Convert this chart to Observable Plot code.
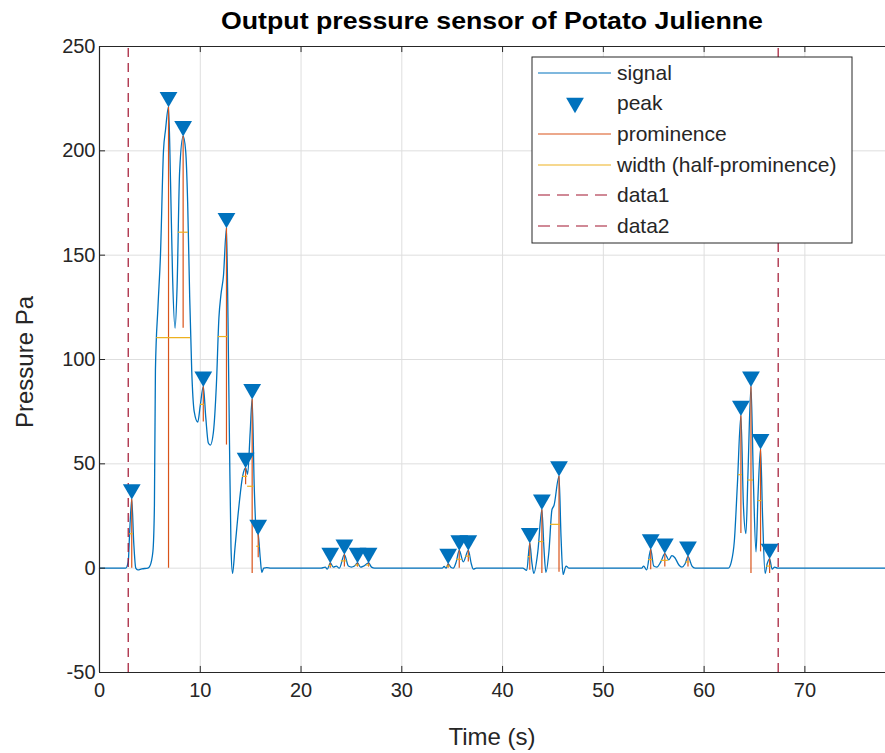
<!DOCTYPE html>
<html><head><meta charset="utf-8">
<script src="https://cdn.jsdelivr.net/npm/d3@7"></script>
<script src="https://cdn.jsdelivr.net/npm/@observablehq/plot@0.6"></script>
<style>body{margin:0;background:#fff} svg{display:block}</style>
</head><body><div id="chart"></div>
<script>
// ---- data ----
const time = [0,2.6,2.85,3.0,3.2,3.4,3.6,3.8,4.2,4.8,5.0,5.3,5.45,5.55,5.8,6.05,6.35,6.55,6.85,7.05,7.25,7.5,7.7,7.95,8.3,8.55,8.75,8.95,9.15,9.4,9.75,10.0,10.3,10.55,10.8,11.0,11.3,11.6,11.85,12.05,12.3,12.6,12.75,12.9,13.05,13.2,13.45,13.8,14.2,14.5,14.7,14.95,15.15,15.35,15.55,15.75,15.95,16.1,16.3,16.6,17,
22.0,22.4,22.6,22.9,23.2,23.5,23.8,24.3,24.7,25.0,25.3,25.6,25.9,26.2,26.7,27.0,27.3,
34.0,34.2,34.4,34.6,34.9,35.1,35.4,35.7,36.1,36.6,36.9,37.1,37.4,
42.0,42.4,42.7,42.9,43.1,43.5,43.9,44.1,44.3,44.6,44.9,45.1,45.6,45.8,46.0,46.3,46.6,
53.8,54.0,54.3,54.7,55.0,55.3,55.7,56.1,56.5,56.8,57.1,57.5,57.8,58.1,58.4,58.8,59.1,
62.4,62.7,63.0,63.3,63.65,63.9,64.15,64.35,64.65,64.9,65.15,65.35,65.6,65.8,66.05,66.25,66.5,66.75,67.0,67.3,78];
const pressure = [0,0,3,18,33,12,0,-0.8,-0.3,0,1,8,30,95,125,150,200,210,221,185,140,115,135,190,207,200,175,130,95,75,70,78,87,72,60,59,65,88,120,131,140,163,120,60,10,-2.5,10,28,44,48,45,65,81,40,18,16,5,-2,0,0.3,0,
0,0.5,-0.5,2.5,0.5,1,0,6.5,1,0.5,1,2.5,0.5,1,2.5,0.5,0,
0,0.8,0,2,0.3,0,3,8.5,3,8.5,2,-0.5,0,
0,-1,12,3,-2.5,8,28,10,-2,8,28,30,44,15,-3,1,0,
0,1,-0.8,9,1,0.5,3,7,4,6,5,1.5,0.5,2,5.5,1,0,
0,3,13,40,73,30,16.6,45,87,40,7.8,35,57,25,-2.5,2,4.5,-0.5,0.5,0,0];

const peakTime  = [3.2,6.85,8.3,10.3,12.6,14.5,15.15,15.75,22.9,24.3,25.6,26.7,34.6,35.7,36.6,42.7,43.9,45.6,54.7,56.1,58.4,63.65,64.65,65.6,66.5];
const peakValue = [33,221,207,87,163,48,81,16,2.5,6.5,2.5,2.5,2,8.5,8.5,12,28,44,9,7,5.5,73,87,57,4.5];
const promBase  = [0,0,115,70,59,40,-2.5,5,0,0.5,0.5,0.5,0,0,3,-1,-2.5,-2,-0.8,0.5,0.5,16.6,-2.5,7.8,-2.5];
const widthLeft  = [2.99,5.68,7.82,10.01,11.78,14.2,14.7,15.6,22.75,24.0,25.4,26.5,34.45,35.45,36.35,42.55,43.6,44.75,54.5,55.75,58.2,63.4,64.35,65.35,66.2];
const widthRight = [3.36,9.04,8.81,10.44,12.77,14.7,15.34,15.9,23.1,24.55,25.8,26.85,34.8,36.0,36.8,42.85,44.1,45.75,54.9,56.45,58.6,63.8,64.9,65.75,66.7];

const boundaryTimes = [2.85, 67.35];
const xTicks = [0,10,20,30,40,50,60,70];
const yTicks = [-50,0,50,100,150,200,250];
const legendLabels = ["signal","peak","prominence","width (half-prominence)","data1","data2"];

// ---- derived tables ----
const signal = time.map((t,i)=>({t, p: pressure[i]}));
const peaks = peakTime.map((t,i)=>({t, p: peakValue[i], base: promBase[i]}));
const widths = widthLeft.map((l,i)=>({x1:l, x2: widthRight[i], y: (peakValue[i]+promBase[i])/2}));

const FONT = "'Liberation Sans', Arial, Helvetica, sans-serif";
const BLUE="#0072BD", ORANGE="#D95319", YELLOW="#EDB120", RED="#A2142F", AX="#262626";

const svg = Plot.plot({
  width: 885, height: 753,
  marginLeft: 99, marginTop: 46, marginBottom: 81, marginRight: 0,
  style: {fontFamily: FONT, fontSize: "20px", color: AX, background: "#fff", overflow: "visible"},
  x: {domain: [0, 78], ticks: xTicks, tickSize: 0, tickPadding: 10, label: null, tickFormat: d => String(d)},
  y: {domain: [-50, 250], ticks: yTicks, tickSize: 0, tickPadding: 4, label: null, tickFormat: d => String(d)},
  marks: [
    Plot.gridX(xTicks, {stroke: "#dedede", strokeOpacity: 1}),
    Plot.gridY(yTicks, {stroke: "#dedede", strokeOpacity: 1}),
    Plot.line(signal, {x: "t", y: "p", stroke: BLUE, strokeWidth: 1.3, curve: "monotone-x"}),
    Plot.ruleX(peaks, {x: "t", y1: "base", y2: "p", stroke: ORANGE, strokeWidth: 1.2}),
    Plot.ruleY(widths, {y: "y", x1: "x1", x2: "x2", stroke: YELLOW, strokeWidth: 1.2}),
    Plot.ruleX(boundaryTimes, {x: d => d, y1: -50, y2: 250, stroke: RED, strokeWidth: 1.2, strokeDasharray: "9,6"}),
    Plot.dot(peaks, {x: "t", y: "p", symbol: "triangle", rotate: 180, r: 6.6, fill: BLUE, stroke: null, dy: -10}),
    // box and inward ticks
    Plot.ruleY([-50, 250], {stroke: AX, strokeWidth: 1.2}),
    Plot.ruleX([0], {stroke: AX, strokeWidth: 1.2}),
    Plot.ruleX(xTicks, {x: d => d, y1: -50, y2: -47.1, stroke: AX}),
    Plot.ruleX(xTicks, {x: d => d, y1: 250, y2: 247.1, stroke: AX}),
    Plot.ruleY(yTicks, {y: d => d, x1: 0, x2: 0.6, stroke: AX})
  ]
});
document.getElementById("chart").appendChild(svg);

const s = d3.select(svg);
// title
s.append("text").attr("x", 492).attr("y", 29).attr("text-anchor", "middle")
  .attr("font-family", FONT).attr("font-weight", "bold").attr("font-size", 24).attr("fill", "#000")
  .attr("textLength", 542).attr("lengthAdjust", "spacingAndGlyphs")
  .text("Output pressure sensor of Potato Julienne");
// axis labels
s.append("text").attr("x", 492).attr("y", 745).attr("text-anchor", "middle")
  .attr("font-family", FONT).attr("font-size", 24).attr("fill", AX).text("Time (s)");
s.append("text").attr("transform", "translate(33,362) rotate(-90)").attr("text-anchor", "middle")
  .attr("font-family", FONT).attr("font-size", 24).attr("fill", AX).text("Pressure Pa");

// legend
const lg = s.append("g").attr("text-anchor", "start");
lg.append("rect").attr("x", 532).attr("y", 57).attr("width", 320).attr("height", 186)
  .attr("fill", "#fff").attr("stroke", AX).attr("stroke-width", 1);
const rowY = [73, 103, 134, 165, 195, 226];
const styles = [
  {type: "line", color: BLUE},
  {type: "tri", color: BLUE},
  {type: "line", color: ORANGE},
  {type: "line", color: YELLOW},
  {type: "dash", color: RED},
  {type: "dash", color: RED}
];
legendLabels.forEach((lab, i) => {
  const y = rowY[i], st = styles[i];
  if (st.type === "tri") {
    lg.append("path").attr("d", d3.symbol(d3.symbolTriangle, Math.PI*6.6*6.6)())
      .attr("transform", `translate(575,${y}) rotate(180)`).attr("fill", st.color);
  } else {
    lg.append("line").attr("x1", 538).attr("x2", 611).attr("y1", y).attr("y2", y)
      .attr("stroke", st.color).attr("stroke-width", 1.2)
      .attr("stroke-dasharray", st.type === "dash" ? "12,7" : null);
  }
  lg.append("text").attr("x", 617).attr("y", y).attr("dy", "0.35em").attr("text-anchor", "start")
    .attr("font-family", FONT).attr("font-size", 21).attr("fill", AX).text(lab);
});
</script></body></html>
